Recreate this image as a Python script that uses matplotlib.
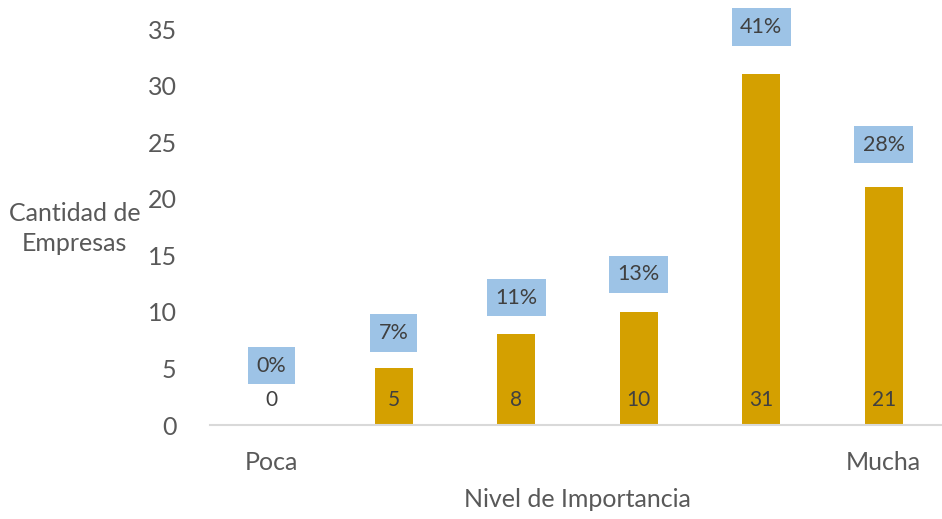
import matplotlib
matplotlib.use("Agg")
import matplotlib.pyplot as plt

plt.rcParams['font.family'] = ['Lato', 'DejaVu Sans']

# Companies per importance level
categories = ["Poca", "", "", "", "", "Mucha"]
counts = [0, 5, 8, 10, 31, 21]
pct_labels = ["0%", "7%", "11%", "13%", "41%", "28%"]
y_ticks = [0, 5, 10, 15, 20, 25, 30, 35]

total = sum(counts)
shares = [100.0 * c / total for c in counts]

BAR = "#D4A000"
BOX = "#9DC3E6"
TXT = "#595959"
DARK = "#404040"

fig = plt.figure(figsize=(9.42, 5.19), dpi=100)
ax = fig.add_axes([0.2229, 0.1811, 0.7803, 0.7630])

x = list(range(len(counts)))
ax.bar(x, counts, width=0.31, color=BAR, zorder=2)

ax.set_xlim(-0.5, 5.5)
ax.set_ylim(0, 35)
ax.set_yticks(y_ticks)
ax.set_xticks(x)
ax.set_xticklabels(categories)
ax.tick_params(axis='y', length=0, pad=24, labelsize=18, labelcolor=TXT)
ax.tick_params(axis='x', length=0, pad=19, labelsize=18, labelcolor=TXT)

for s in ("top", "right", "left"):
    ax.spines[s].set_visible(False)
ax.spines["bottom"].set_color("#D9D9D9")
ax.spines["bottom"].set_linewidth(1.5)

# count labels at the base of each bar
for i, c in enumerate(counts):
    ax.annotate(str(c), xy=(i, 0), xytext=(0, 18), textcoords="offset points",
                ha="center", va="center", fontsize=15, color=DARK, zorder=3)

# share labels placed on a secondary percentage scale
ax2 = ax.twinx()
ax2.set_ylim(-3.74, 41.1)
ax2.axis("off")
for i, (s, lab) in enumerate(zip(shares, pct_labels)):
    nudge = 19 if s == 0 else 0
    ax2.annotate(lab, xy=(i, s), xytext=(0, nudge), textcoords="offset points",
                 ha="center", va="center", fontsize=15.5, color=DARK,
                 annotation_clip=False,
                 bbox=dict(boxstyle="square,pad=0.4", fc=BOX, ec="none"))

ax.set_xlabel("Nivel de Importancia", fontsize=18, color=TXT, labelpad=10)
fig.text(0.079, 0.560, "Cantidad de\nEmpresas", ha="center", va="center",
         fontsize=18, color=TXT, linespacing=1.4)

fig.savefig("out.png", dpi=100)
